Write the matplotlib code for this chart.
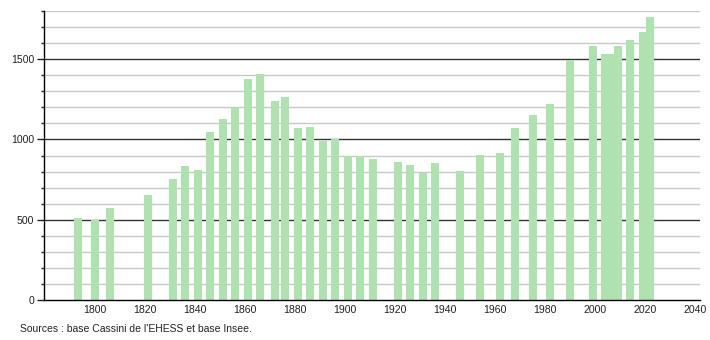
import matplotlib
matplotlib.use("Agg")
import matplotlib.pyplot as plt
from matplotlib.ticker import MultipleLocator

plt.rcParams['font.family'] = ['Liberation Sans', 'DejaVu Sans']

years = [1793, 1800, 1806, 1821, 1831, 1836, 1841, 1846, 1851, 1856,
         1861, 1866, 1872, 1876, 1881, 1886, 1891, 1896, 1901, 1906,
         1911, 1921, 1926, 1931, 1936, 1946, 1954, 1962, 1968, 1975,
         1982, 1990, 1999, 2004, 2006, 2009, 2014, 2019, 2022]
population = [511, 498, 573, 654, 753, 832, 808, 1046, 1127, 1200,
              1376, 1407, 1239, 1264, 1072, 1077, 990, 1002, 896, 896,
              878, 859, 841, 791, 853, 803, 903, 916, 1073, 1152,
              1220, 1494, 1582, 1530, 1530, 1582, 1619, 1669, 1763]
x_ticks = [1800, 1820, 1840, 1860, 1880, 1900, 1920, 1940, 1960, 1980, 2000, 2020, 2040]
y_major = [0, 500, 1000, 1500]
source_text = "Sources : base Cassini de l'EHESS et base Insee."

fig = plt.figure(figsize=(7.1, 3.4), dpi=100)
ax = fig.add_axes([44/710, 40/340, 656/710, 289/340])

ax.set_xlim(1779.5, 2041.9)
ax.set_ylim(0, 1800)

# grid
for v in range(100, 1801, 100):
    if v % 500 == 0:
        ax.axhline(v, color='#333333', lw=1.0, zorder=1)
    else:
        ax.axhline(v, color='#c8c8c8', lw=1.0, zorder=1)

ax.bar(years, population, width=3.2, color='#aee2ae', edgecolor='none', zorder=2)

ax.set_xticks(x_ticks)
ax.set_xticklabels([str(t) for t in x_ticks])
ax.set_yticks(y_major)
ax.set_yticklabels([str(t) for t in y_major])
ax.yaxis.set_minor_locator(MultipleLocator(100))

ax.tick_params(axis='x', length=0, pad=3.5, labelsize=7.6, colors='#222222')
ax.tick_params(axis='y', which='major', length=5, width=1, pad=2, labelsize=7.6, colors='#222222')
ax.tick_params(axis='y', which='minor', length=2, width=1, color='#222222')

for s in ['top', 'right']:
    ax.spines[s].set_visible(False)
for s in ['left', 'bottom']:
    ax.spines[s].set_color('black')
    ax.spines[s].set_linewidth(1.0)
    ax.spines[s].set_zorder(3)

fig.text(20/710, 1 - 329/340, source_text, fontsize=7.5, color='#222222', va='center', ha='left')

fig.savefig('out.png', dpi=100)
